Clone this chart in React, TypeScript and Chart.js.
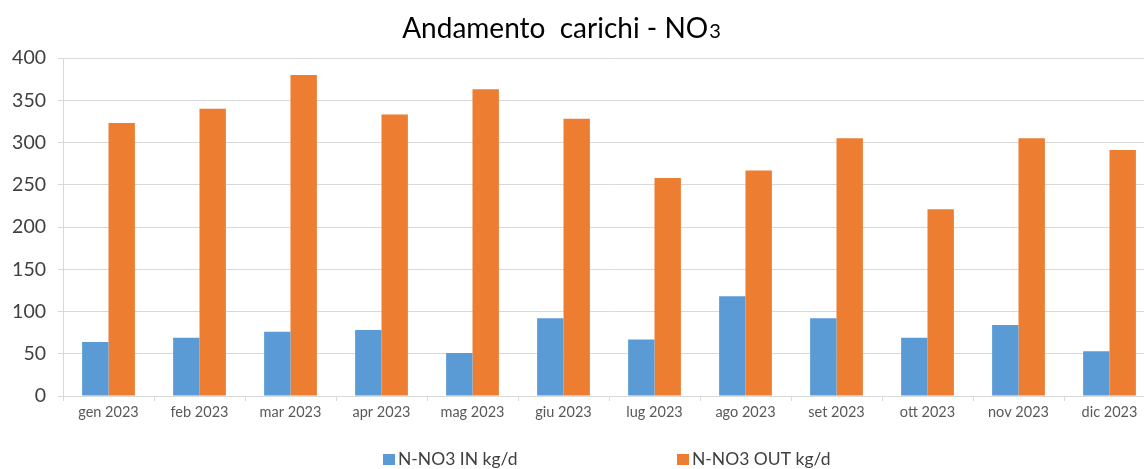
import React, { useEffect, useRef } from "react";
import { Chart, registerables } from "chart.js";
Chart.register(...registerables);

const categories = ["gen 2023", "feb 2023", "mar 2023", "apr 2023", "mag 2023", "giu 2023", "lug 2023", "ago 2023", "set 2023", "ott 2023", "nov 2023", "dic 2023"];
const inValues = [64, 69, 76, 78, 51, 92, 67, 118, 92, 69, 84, 53];
const outValues = [323, 340, 380, 333, 363, 328, 258, 267, 305, 221, 305, 291];
const seriesLabels = ["N-NO3 IN kg/d", "N-NO3 OUT kg/d"];
const colors = ["#5B9BD5", "#ED7D31"];
const FONT = "Lato, 'Open Sans', sans-serif";

const decor = {
  id: "decor",
  afterDraw(chart: any) {
    const ctx = chart.ctx;
    ctx.save();
    // title
    const main = "Andamento  carichi - NO";
    ctx.font = `28px ${FONT}`;
    const w1 = ctx.measureText(main).width;
    ctx.font = `20px ${FONT}`;
    const w2 = ctx.measureText("3").width;
    const x0 = 561 - (w1 + w2) / 2;
    ctx.fillStyle = "#000000";
    ctx.textBaseline = "alphabetic";
    ctx.textAlign = "left";
    ctx.font = `28px ${FONT}`;
    ctx.fillText(main, x0, 38);
    ctx.font = `20px ${FONT}`;
    ctx.fillText("3", x0 + w1 + 1, 38);
    // legend
    const xs = [383, 677];
    ctx.font = `17.5px ${FONT}`;
    seriesLabels.forEach((l, i) => {
      ctx.fillStyle = colors[i];
      ctx.fillRect(xs[i], 454, 12, 11);
      ctx.fillStyle = "#404040";
      ctx.fillText(l, xs[i] + 15, 465);
    });
    ctx.restore();
  },
};

export default function App() {
  const ref = useRef<HTMLCanvasElement>(null);
  useEffect(() => {
    document.body.style.margin = "0";
    const chart = new Chart(ref.current!, {
      type: "bar",
      data: {
        labels: categories,
        datasets: [
          { label: seriesLabels[0], data: inValues, backgroundColor: colors[0], categoryPercentage: 0.58, barPercentage: 1.0 },
          { label: seriesLabels[1], data: outValues, backgroundColor: colors[1], categoryPercentage: 0.58, barPercentage: 1.0 },
        ],
      },
      options: {
        animation: false,
        responsive: false,
        maintainAspectRatio: false,
        layout: { padding: { top: 58, bottom: 0, left: 0, right: 0 } },
        plugins: { legend: { display: false }, title: { display: false }, tooltip: { enabled: false } },
        scales: {
          x: {
            grid: { display: true, drawOnChartArea: false, color: "#d9d9d9", tickLength: 5, offset: true },
            border: { color: "#d9d9d9" },
            ticks: { color: "#595959", font: { family: FONT, size: 14.5 }, padding: 3, maxRotation: 0, autoSkip: false },
            afterFit: (s: any) => { s.height = 73; },
          },
          y: {
            min: 0,
            max: 400,
            ticks: { stepSize: 50, color: "#404040", font: { family: FONT, size: 19.5 }, padding: 12 },
            grid: { color: "#d9d9d9", tickLength: 5 },
            border: { color: "#d9d9d9" },
            afterFit: (s: any) => { s.width = 63; },
          },
        },
      },
      plugins: [decor],
    });
    return () => chart.destroy();
  }, []);
  return (
    <div style={{ position: "absolute", left: 0, top: 0, width: 1144, height: 469, background: "#fff", overflow: "hidden" }}>
      <canvas ref={ref} width={1155} height={469} style={{ width: 1155, height: 469 }} />
    </div>
  );
}
